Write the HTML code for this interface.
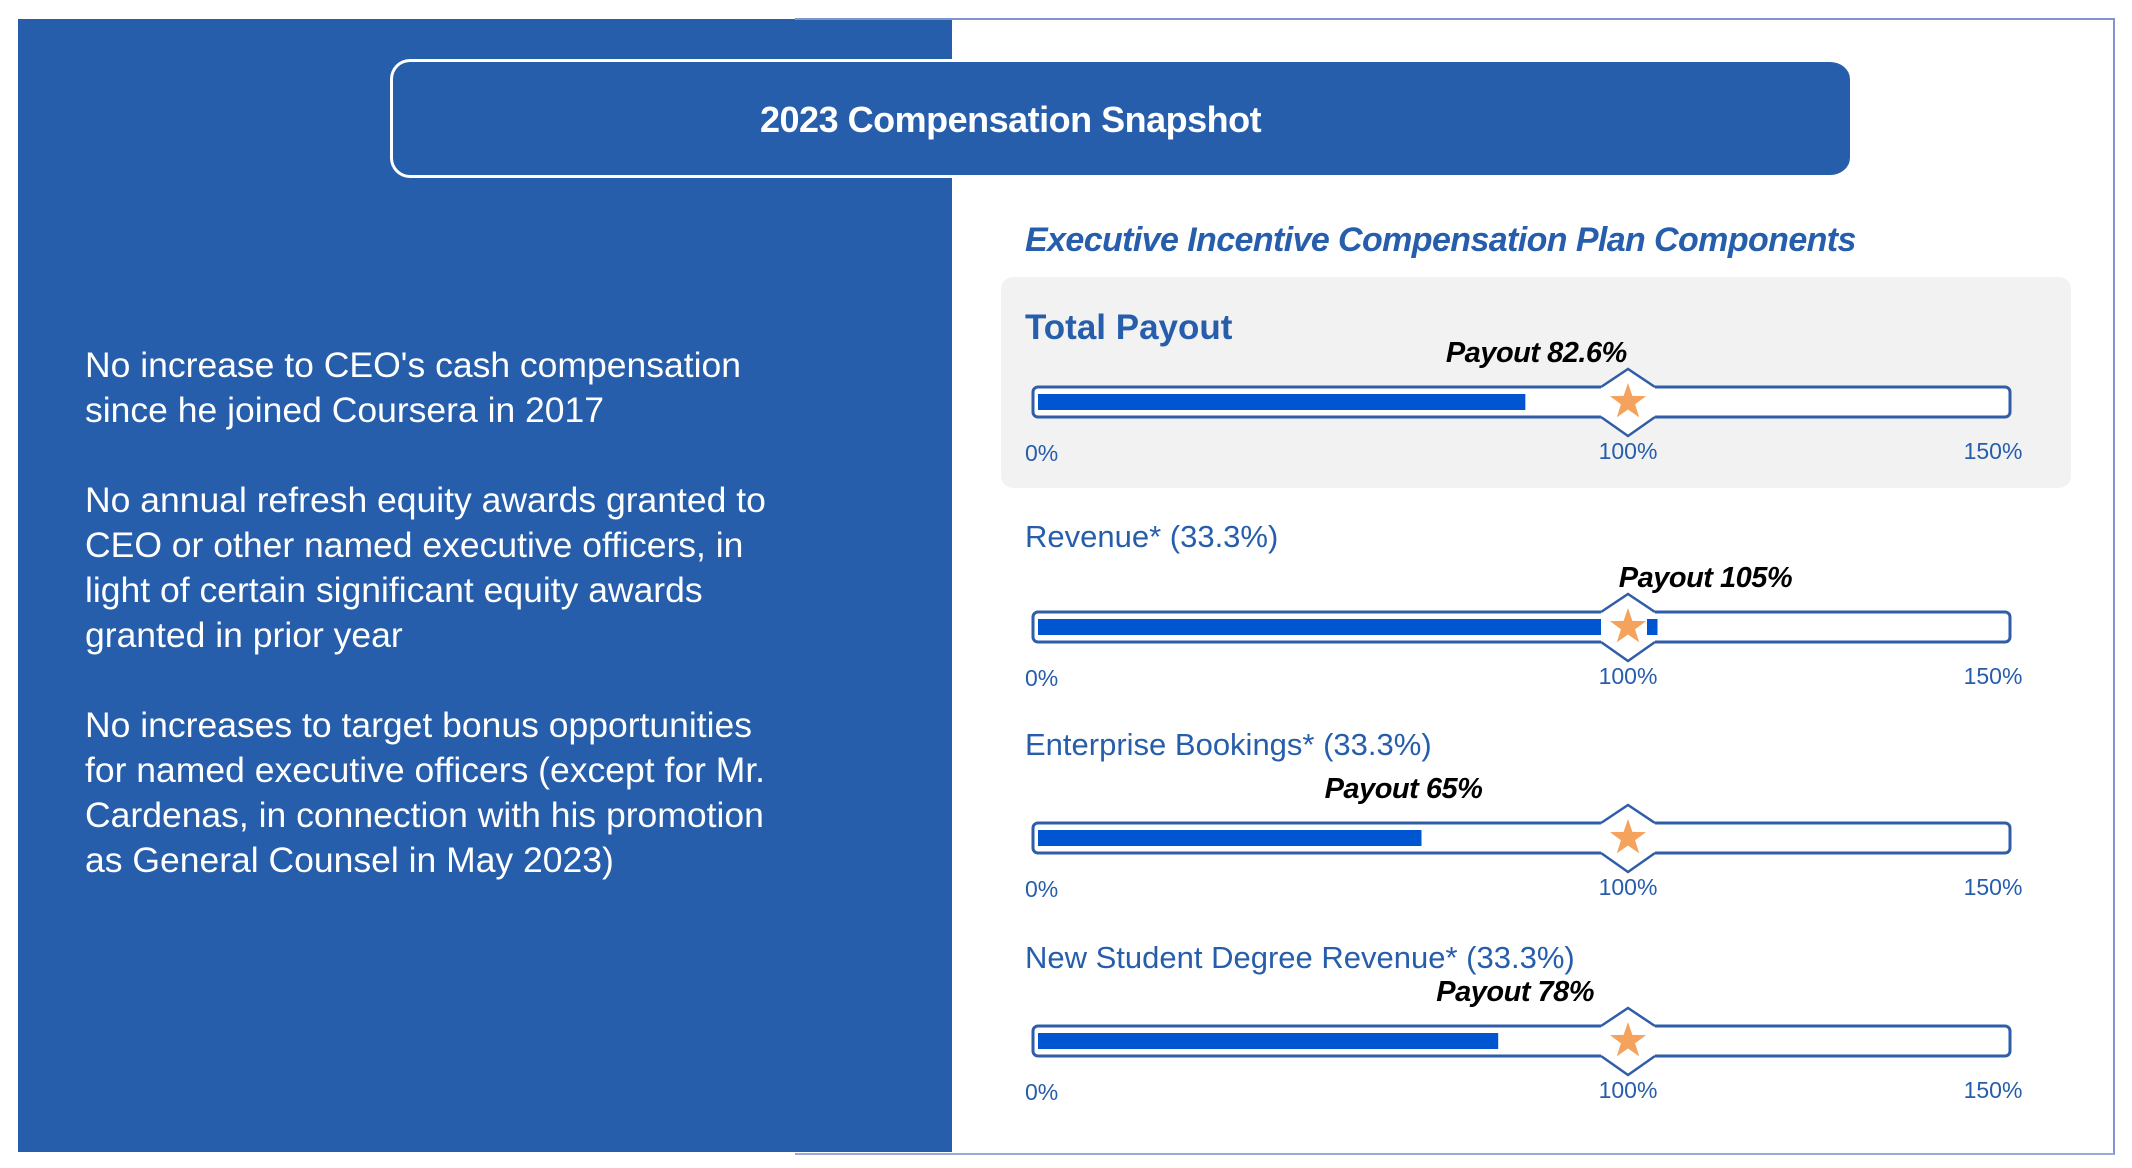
<!DOCTYPE html>
<html><head><meta charset="utf-8"><style>
html,body{margin:0;padding:0;width:2132px;height:1168px;background:#fff;overflow:hidden;font-family:"Liberation Sans",sans-serif}
#left{position:absolute;left:18px;top:19px;width:934px;height:1133px;background:#265EAC}
#frame{position:absolute;left:795px;top:18px;width:1318px;height:1133px;border-top:2px solid #7f95cf;border-right:2px solid #7f95cf;border-bottom:2px solid #9aaad8}
#header{position:absolute;left:390px;top:59px;width:1460px;height:119px;background:#265EAC;border-radius:20px;box-sizing:border-box;border:3px solid #fff;border-right:none}
#header span{position:absolute;left:367px;top:37px;color:#fff;font-weight:bold;font-size:36px;letter-spacing:-0.5px;white-space:nowrap}
#bullets{position:absolute;left:85px;top:343px;color:#fff;font-size:35.5px;line-height:45px;margin:0;white-space:nowrap}
#bullets p{margin:0 0 45px 0}
svg{position:absolute;left:0;top:0}
</style></head><body>
<div id="left"></div>
<div id="frame"></div>
<div id="header"><span>2023 Compensation Snapshot</span></div>
<div id="bullets">
<p>No increase to CEO's cash compensation<br>since he joined Coursera in 2017</p>
<p>No annual refresh equity awards granted to<br>CEO or other named executive officers, in<br>light of certain significant equity awards<br>granted in prior year</p>
<p>No increases to target bonus opportunities<br>for named executive officers (except for Mr.<br>Cardenas, in connection with his promotion<br>as General Counsel in May 2023)</p>
</div>
<svg id="chart" width="2132" height="1168">
<rect x="1001" y="277" width="1070" height="211" rx="12" fill="#f2f2f2"/>
<text x="1025" y="251" font-size="34" font-weight="bold" font-style="italic" fill="#265EAC" letter-spacing="-0.6">Executive Incentive Compensation Plan Components</text>
</svg>
<script>
const categories = ["Total Payout", "Revenue* (33.3%)", "Enterprise Bookings* (33.3%)", "New Student Degree Revenue* (33.3%)"];
const payoutValues = [82.6, 105, 65, 78];
const payoutLabels = ["Payout 82.6%", "Payout 105%", "Payout 65%", "Payout 78%"];
const tickValues = [0, 100, 150];
const tickLabels = ["0%", "100%", "150%"];
const targetValue = 100;

const NS = "http://www.w3.org/2000/svg";
const svg = document.getElementById("chart");
const x = v => 1038 + v * 5.9;
const rowCenters = [402, 627, 838, 1041];
const titleOffsets = [-63, -80, -83, -73];
const labelOffsets = [11, 48, -18, 17];
function mk(tag, attrs, parent) {
  const e = document.createElementNS(NS, tag);
  for (const k in attrs) e.setAttribute(k, attrs[k]);
  (parent || svg).appendChild(e);
  return e;
}
function starPts(cx, cy, R, r) {
  const p = [];
  for (let i = 0; i < 10; i++) {
    const a = -Math.PI / 2 + i * Math.PI / 5;
    const rr = i % 2 ? r : R;
    p.push((cx + rr * Math.cos(a)).toFixed(1) + "," + (cy + rr * Math.sin(a)).toFixed(1));
  }
  return p.join(" ");
}
categories.forEach((cat, i) => {
  const cy = rowCenters[i];
  const g = mk("g", {});
  
  
  const t = mk("text", {x: 1025, y: cy + titleOffsets[i], "font-size": i === 0 ? 35 : 31, "font-weight": i === 0 ? "bold" : "normal", fill: "#265EAC"}, g);
  t.textContent = cat;
  
  
  const tr = mk("rect", {x: 1033, y: cy - 15, width: 977, height: 30, rx: 5, fill: "#fff", stroke: "#2F5DA8", "stroke-width": 3}, g);
  
  
  const fb = mk("rect", {x: x(0), y: cy - 8, width: x(payoutValues[i]) - x(0), height: 16, fill: "#0055D0"}, g);
  
  
  const cx = x(targetValue);
  const dm = mk("polygon", {points: `${cx-27},${cy-15} ${cx},${cy-33} ${cx+27},${cy-15} ${cx+27},${cy+15} ${cx},${cy+34} ${cx-27},${cy+15}`, fill: "#fff"}, g);
  
  
  if (payoutValues[i] > targetValue) {
    const r2 = mk("rect", {x: cx + 19, y: cy - 8, width: Math.max(0, x(payoutValues[i]) - cx - 19), height: 16, fill: "#0055D0"}, g);
    
    
  }
  const dl = mk("polyline", {points: `${cx-27},${cy-15} ${cx},${cy-33} ${cx+27},${cy-15}`, fill: "none", stroke: "#2F5DA8", "stroke-width": 2.5}, g);
  
  
  const dl2 = mk("polyline", {points: `${cx-27},${cy+15} ${cx},${cy+34} ${cx+27},${cy+15}`, fill: "none", stroke: "#2F5DA8", "stroke-width": 2.5}, g);
  
  
  const st = mk("polygon", {points: starPts(cx, cy, 19, 7.5), fill: "#F5A25C"}, g);
  
  
  const pl = mk("text", {x: x(payoutValues[i]) + labelOffsets[i], y: cy - 40, "font-size": 29, "font-weight": "bold", "font-style": "italic", "text-anchor": "middle", fill: "#000", "letter-spacing": "-0.5"}, g);
  pl.textContent = payoutLabels[i];
  
  
  tickValues.forEach((tv, j) => {
    const tt = mk("text", {x: j === 0 ? 1025 : x(tv), y: cy + 57 + (j === 0 ? 2 : 0), "font-size": 23, "text-anchor": j === 0 ? "start" : "middle", fill: "#265EAC"}, g);
    if (j === 2) tt.setAttribute("x", 1993);
    tt.textContent = tickLabels[j];
    
    
  });
});
</script>
</body></html>
